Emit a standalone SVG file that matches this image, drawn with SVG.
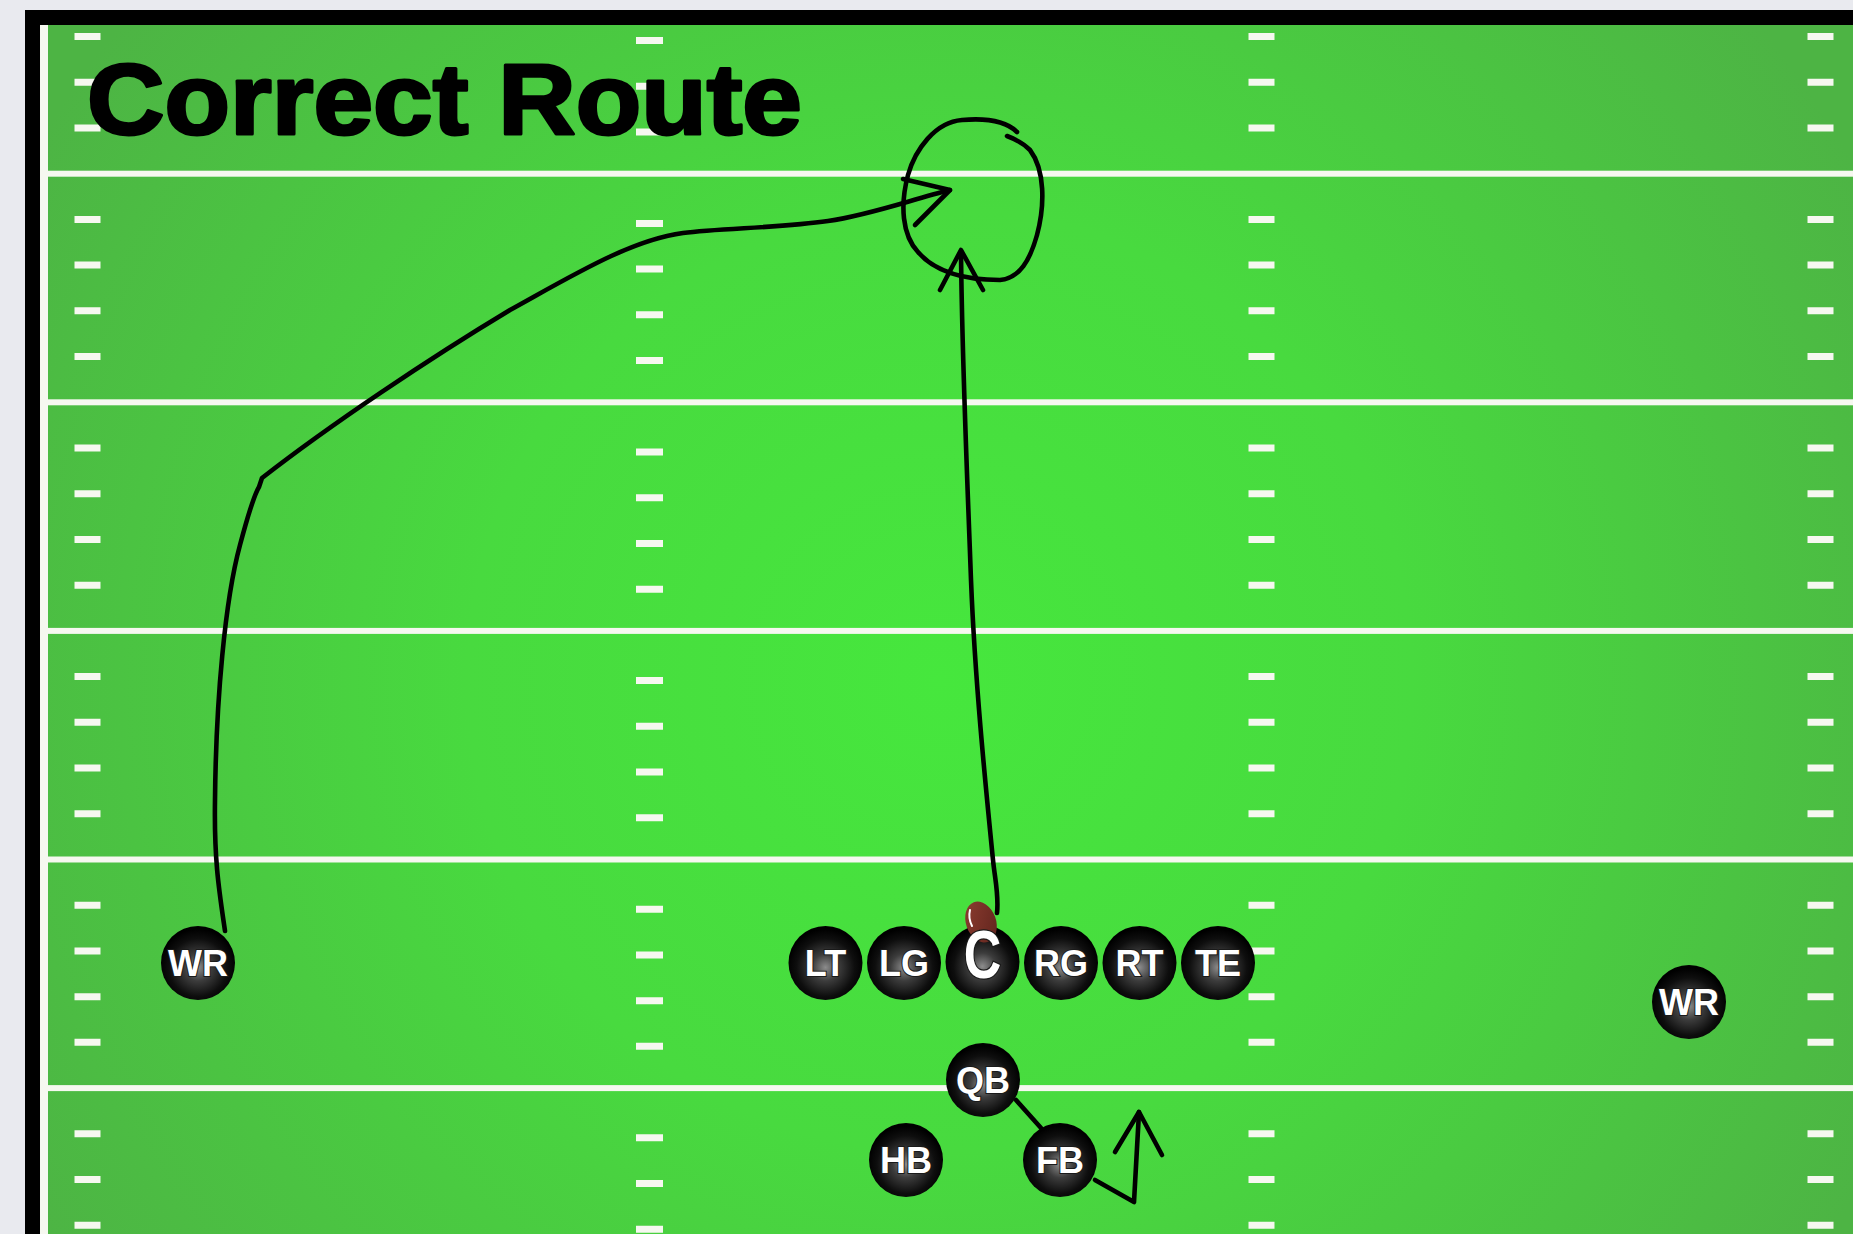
<svg xmlns="http://www.w3.org/2000/svg" width="1853" height="1234" viewBox="0 0 1853 1234">
  <defs>
    <radialGradient id="turf" gradientUnits="userSpaceOnUse" cx="940" cy="680" r="1050">
      <stop offset="0" stop-color="#46e73d"/>
      <stop offset="0.45" stop-color="#48da3f"/>
      <stop offset="1" stop-color="#4db444"/>
    </radialGradient>
    <radialGradient id="ball" cx="50%" cy="56%" r="52%">
      <stop offset="0" stop-color="#8c8c8c"/>
      <stop offset="0.35" stop-color="#3c3c3c"/>
      <stop offset="0.75" stop-color="#0e0e0e"/>
      <stop offset="1" stop-color="#000"/>
    </radialGradient>
    <linearGradient id="pig" x1="0" y1="0" x2="1" y2="1">
      <stop offset="0" stop-color="#8e3d31"/>
      <stop offset="1" stop-color="#5e231c"/>
    </linearGradient>
    <style>
      .yard{fill:#f6f8f0}
      .hash{fill:none;stroke:#f6f8f0;stroke-dasharray:7 38.72 7 38.72 7 38.72 7 84.44}
      .player{fill:url(#ball)}
      .lbl{font-family:"Liberation Sans",Arial,sans-serif;font-weight:bold;font-size:36px;fill:#fff;stroke:#1a1a1a;stroke-width:2;paint-order:stroke;text-anchor:middle}
      .route{fill:none;stroke:#000;stroke-width:4.6;stroke-linecap:round;stroke-linejoin:round}
      .title{font-family:"Liberation Sans",Arial,sans-serif;font-weight:bold;font-size:100px;fill:#000;stroke:#000;stroke-width:3;stroke-linejoin:round}
    </style>
  </defs>

  <rect width="1853" height="1234" fill="#e9eaef"/>

  <g id="field">
    <rect x="40" y="10" width="1813" height="1224" fill="url(#turf)"/>
    <rect class="yard" x="40" y="170.7" width="1813" height="6"/>
    <rect class="yard" x="40" y="399.3" width="1813" height="6"/>
    <rect class="yard" x="40" y="627.9" width="1813" height="6"/>
    <rect class="yard" x="40" y="856.5" width="1813" height="6"/>
    <rect class="yard" x="40" y="1085.1" width="1813" height="6"/>
    <line class="hash" x1="87.5" y1="-12.7" x2="87.5" y2="1234" stroke-width="26"/>
    <line class="hash" x1="649.5" y1="-8.7" x2="649.5" y2="1234" stroke-width="27"/>
    <line class="hash" x1="1261.5" y1="-12.7" x2="1261.5" y2="1234" stroke-width="26"/>
    <line class="hash" x1="1820.5" y1="-12.7" x2="1820.5" y2="1234" stroke-width="26"/>
    <rect x="40" y="25" width="8" height="1209" fill="#f6f8f0"/>
    <rect x="25" y="10" width="1828" height="15" fill="#000"/>
    <rect x="25" y="10" width="15" height="1224" fill="#000"/>
  </g>

  <g id="title">
    <text class="title" x="87" y="134" textLength="715" lengthAdjust="spacingAndGlyphs">Correct Route</text>
  </g>

  <g id="connectors">
    <path class="route" d="M 225,931 C 219,890 214,860 215,800 C 216,700 225,600 240,545 C 248,515 254,495 259,487 L 262,478 C 330,425 430,358 510,310 C 570,277 630,240 683,233 C 720,228 780,228 828,221 C 870,215 910,200 950,190"/>
    <path class="route" d="M 903,179 L 950,190 L 915,225"/>
    <path class="route" d="M 997,913 C 999,895 995,880 993,860 C 985,780 975,680 971,580 C 967,470 962,360 961,252"/>
    <path class="route" d="M 940,290 L 961,250 L 983,290"/>
    <path class="route" d="M 1017,132 C 1005,120 985,118 962,120 C 935,122 915,150 908,175 C 900,205 902,235 918,252 C 935,272 965,280 1000,280 C 1020,278 1030,260 1037,235 C 1045,205 1045,170 1030,150 C 1022,142 1015,139 1007,136"/>
    <path class="route" d="M 1016,1100 L 1041,1128"/>
    <path class="route" d="M 1095,1180 L 1134,1202 L 1139,1112"/>
    <path class="route" d="M 1115,1152 L 1139,1112 L 1162,1155"/>
  </g>

  <g id="wr-left"><circle class="player" cx="198" cy="963" r="37"/><text class="lbl" x="198" y="976">WR</text></g>
  <g id="lt"><circle class="player" cx="825.5" cy="963" r="37"/><text class="lbl" x="825.5" y="976">LT</text></g>
  <g id="lg"><circle class="player" cx="904" cy="963" r="37"/><text class="lbl" x="904" y="976">LG</text></g>
  <g id="c">
    <circle class="player" cx="982.5" cy="962" r="37"/>
    <g id="football">
      <ellipse cx="981" cy="922" rx="15" ry="21" transform="rotate(-20 981 922)" fill="url(#pig)"/>
      <path d="M 970,910 Q 968,918 972,926" fill="none" stroke="#fff" stroke-width="2" stroke-linecap="round"/>
    </g>
    <text class="lbl" transform="translate(982.5,978) scale(1,1.3)" style="font-size:52px">C</text>
  </g>
  <g id="rg"><circle class="player" cx="1061" cy="963" r="37"/><text class="lbl" x="1061" y="976">RG</text></g>
  <g id="rt"><circle class="player" cx="1139.5" cy="963" r="37"/><text class="lbl" x="1139.5" y="976">RT</text></g>
  <g id="te"><circle class="player" cx="1218" cy="963" r="37"/><text class="lbl" x="1218" y="976">TE</text></g>
  <g id="qb"><circle class="player" cx="983" cy="1080" r="37"/><text class="lbl" x="983" y="1093">QB</text></g>
  <g id="hb"><circle class="player" cx="906" cy="1160" r="37"/><text class="lbl" x="906" y="1173">HB</text></g>
  <g id="fb"><circle class="player" cx="1060" cy="1160" r="37"/><text class="lbl" x="1060" y="1173">FB</text></g>
  <g id="wr-right"><circle class="player" cx="1689" cy="1002" r="37"/><text class="lbl" x="1689" y="1015">WR</text></g>
</svg>
